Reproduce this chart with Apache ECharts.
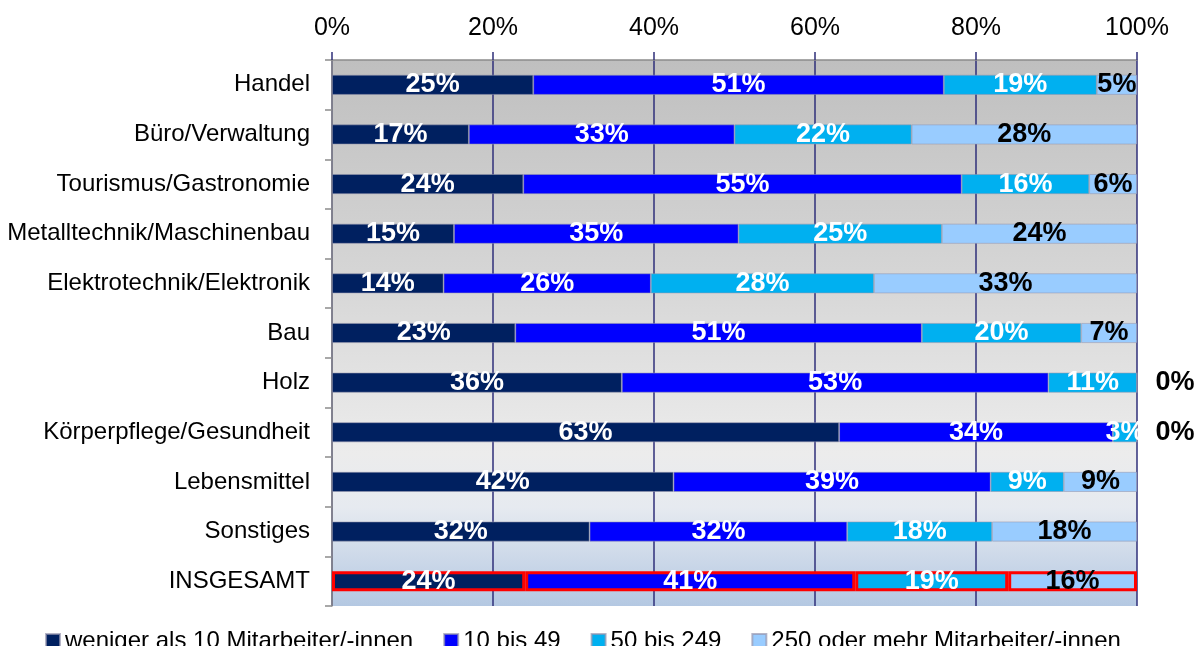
<!DOCTYPE html>
<html>
<head>
<meta charset="utf-8">
<script src="https://cdn.jsdelivr.net/npm/echarts@6/dist/echarts.min.js"></script>
<style>
  html, body { margin: 0; padding: 0; background: #fff; }
  #chart { width: 1194px; height: 646px; }
</style>
</head>
<body>
<div id="chart"></div>
<script>
// Betriebsgröße nach Branche (Anteile in %)
const categories = [
  'Handel', 'Büro/Verwaltung', 'Tourismus/Gastronomie', 'Metalltechnik/Maschinenbau',
  'Elektrotechnik/Elektronik', 'Bau', 'Holz', 'Körperpflege/Gesundheit',
  'Lebensmittel', 'Sonstiges', 'INSGESAMT'
];
const seriesNames = [
  'weniger als 10 Mitarbeiter/-innen', '10 bis 49', '50 bis 249', '250 oder mehr Mitarbeiter/-innen'
];
const unter10   = [25, 17, 24, 15, 14, 23, 36, 63, 42, 32, 24];
const bis49     = [51, 33, 55, 35, 26, 51, 53, 34, 39, 32, 41];
const bis249    = [19, 22, 16, 25, 28, 20, 11,  3,  9, 18, 19];
const ab250     = [ 5, 28,  6, 24, 33,  7,  0,  0,  9, 18, 16];
const tickLabels = ['0%', '20%', '40%', '60%', '80%', '100%'];

const colors = ['#002060', '#0000ff', '#00b0f0', '#99ccff'];
const labelColors = ['#ffffff', '#ffffff', '#ffffff', '#000000'];
const FONT = "'Liberation Sans', Arial, sans-serif";
const totalIndex = categories.indexOf('INSGESAMT');

const valueSets = [unter10, bis49, bis249, ab250];

// 100 %-gestapelt: jede Zeile wird auf ihre Summe bezogen (Rundungsdifferenzen)
const rowSums = categories.map((_, i) => valueSets.reduce((acc, vals) => acc + vals[i], 0));

function buildData(values, s) {
  return values.map((v, i) => {
    const item = { value: v / rowSums[i] * 100, raw: v };
    if (i === totalIndex) {
      item.itemStyle = { borderColor: '#ff0000', borderWidth: 3 };
    }
    if (s === 3 && v === 0) {
      item.label = { position: 'right', distance: 18 };
    }
    return item;
  });
}

const series = valueSets.map((vals, s) => ({
  name: seriesNames[s],
  type: 'bar',
  stack: 'total',
  barWidth: 20,
  itemStyle: { color: colors[s], borderColor: 'rgba(150,150,175,0.7)', borderWidth: 0.8 },
  label: {
    show: true,
    position: 'inside',
    formatter: (p) => p.data.raw + '%',
    color: labelColors[s],
    fontFamily: FONT,
    fontWeight: 'bold',
    fontSize: 27
  },
  data: buildData(vals, s)
}));

const chart = echarts.init(document.getElementById('chart'), null, { renderer: 'canvas' });
chart.setOption({
  animation: false,
  backgroundColor: '#ffffff',
  textStyle: { fontFamily: FONT },
  grid: {
    left: 332, right: 57, top: 60, bottom: 40,
    show: true,
    borderWidth: 0,
    backgroundColor: {
      type: 'linear', x: 0, y: 0, x2: 0, y2: 1,
      colorStops: [
        { offset: 0, color: '#bfbfbf' },
        { offset: 0.4, color: '#d6d6d6' },
        { offset: 0.72, color: '#ececec' },
        { offset: 0.82, color: '#e6eaf0' },
        { offset: 1, color: '#b4c8e2' }
      ]
    }
  },
  legend: {
    data: seriesNames,
    left: 40,
    top: 624,
    icon: 'rect',
    itemWidth: 14,
    itemHeight: 14,
    itemGap: 30,
    textStyle: { fontFamily: FONT, fontSize: 24, color: '#000' }
  },
  xAxis: {
    type: 'value',
    position: 'top',
    min: 0,
    max: 100,
    interval: 20,
    axisLine: { show: true, lineStyle: { color: '#8c8c8c', width: 1.5 } },
    axisTick: { show: true, length: 8, lineStyle: { color: '#2f2f7a', width: 1.5 } },
    axisLabel: {
      margin: 19,
      fontFamily: FONT,
      fontSize: 25,
      color: '#000',
      formatter: (v) => tickLabels[Math.round(v / 20)]
    },
    splitLine: { show: true, lineStyle: { color: '#2f2f7a', width: 1.5 } }
  },
  yAxis: {
    type: 'category',
    inverse: true,
    data: categories,
    axisLine: { show: true, lineStyle: { color: '#8c8c8c', width: 1.5 } },
    axisTick: { show: true, length: 7, lineStyle: { color: '#8c8c8c', width: 1.5 } },
    axisLabel: { margin: 22, fontFamily: FONT, fontSize: 24, color: '#000' }
  },
  series: series
});
</script>
</body>
</html>
